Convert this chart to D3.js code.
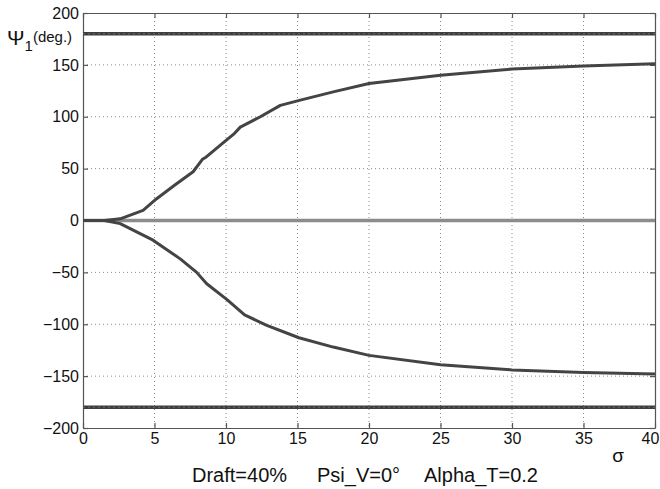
<!DOCTYPE html>
<html>
<head>
<meta charset="utf-8">
<script src="https://cdn.jsdelivr.net/npm/d3@7"></script>
<style>
  body { margin: 0; background: #fff; }
  text { font-family: "Liberation Sans", Arial, sans-serif; }
</style>
</head>
<body>
<svg id="chart" width="660" height="489"></svg>
<script>
// values
const sigmaUp = [0, 1.5, 2.6, 4.2, 5.15, 6.4, 7.7, 8.35, 8.6, 9.9, 10.6, 11, 12.4, 13.8, 15.2, 17.5, 20, 25, 30, 35, 40];
const psiUp   = [0, 0, 1.6, 9.7, 21, 34, 47, 59, 61, 76, 84, 90, 100, 111, 116, 124, 132, 140, 146, 149, 151];
const sigmaLow = [0, 1.5, 2.6, 4.9, 6.8, 7.95, 8.65, 10.05, 11.3, 12.85, 15.1, 17.5, 20, 25, 30, 35, 40];
const psiLow   = [0, 0, -3, -19, -37, -50, -61, -76, -91, -101, -113, -122, -130, -139, -144, -146.5, -148];
const flatLines = [180, -180];
const xTicks = [0, 5, 10, 15, 20, 25, 30, 35, 40];
const yTicks = [-200, -150, -100, -50, 0, 50, 100, 150, 200];
const titleParts = [["Draft=40%", 192], ["Psi_V=0°", 317], ["Alpha_T=0.2", 424]];

const svg = d3.select("#chart");
const pL = 83, pR = 655, pT = 13, pB = 428;

const x = d3.scaleLinear().domain([0, 40]).range([pL, pR]);
const y = d3.scaleLinear().domain([-200, 200]).range([pB, pT]);

// dotted grid
const grid = svg.append("g").attr("class", "grid");
grid.selectAll("line.v").data(xTicks.slice(1, -1)).enter().append("line")
  .attr("x1", d => x(d)).attr("x2", d => x(d))
  .attr("y1", pT).attr("y2", pB)
  .attr("stroke", "#8a8a8a").attr("stroke-width", 1).attr("stroke-dasharray", "1,3");
grid.selectAll("line.h").data(yTicks.slice(1, -1)).enter().append("line")
  .attr("y1", d => y(d)).attr("y2", d => y(d))
  .attr("x1", pL).attr("x2", pR)
  .attr("stroke", "#8a8a8a").attr("stroke-width", 1).attr("stroke-dasharray", "1,3");

// axes (MATLAB style, ticks inward on all four sides)
const xAxisG = svg.append("g").attr("transform", `translate(0,${pB})`)
  .call(d3.axisBottom(x).tickValues(xTicks).tickSize(-5).tickPadding(5).tickSizeOuter(0));
svg.append("g").attr("transform", `translate(0,${pT})`)
  .call(d3.axisTop(x).tickValues(xTicks).tickSize(-5).tickFormat("").tickSizeOuter(0));
svg.append("g").attr("transform", `translate(${pL},0)`)
  .call(d3.axisLeft(y).tickValues(yTicks).tickSize(-5).tickPadding(4).tickSizeOuter(0));
svg.append("g").attr("transform", `translate(${pR},0)`)
  .call(d3.axisRight(y).tickValues(yTicks).tickSize(-5).tickFormat("").tickSizeOuter(0));

svg.selectAll(".domain, .tick line").attr("stroke", "#555").attr("stroke-width", 1.2);
svg.selectAll(".tick text").attr("font-size", 16).attr("fill", "#111")
  .style("font-family", "'Liberation Sans', Arial, sans-serif");
// last x label sits against the page edge
xAxisG.selectAll(".tick text").filter(d => d === 40).attr("dx", -5);

// data lines
const line = d3.line().x(d => x(d[0])).y(d => y(d[1]));

svg.append("path")
  .datum([[0, 0], [40, 0]])
  .attr("d", line).attr("fill", "none")
  .attr("stroke", "#8c8c8c").attr("stroke-width", 3.5);

svg.selectAll("path.flat").data(flatLines).enter().append("path")
  .attr("class", "flat")
  .attr("d", d => line([[0, d], [40, d]]))
  .attr("fill", "none").attr("stroke", "#3e3e3e").attr("stroke-width", 3.5);
svg.selectAll("path.flatdots").data(flatLines).enter().append("path")
  .attr("class", "flatdots")
  .attr("d", d => line([[0, d], [40, d]]))
  .attr("fill", "none").attr("stroke", "#6a6a6a").attr("stroke-width", 1)
  .attr("stroke-dasharray", "2,3");

svg.append("path")
  .datum(sigmaUp.map((s, i) => [s, psiUp[i]]))
  .attr("d", line).attr("fill", "none")
  .attr("stroke", "#444").attr("stroke-width", 3).attr("stroke-linejoin", "round");

svg.append("path")
  .datum(sigmaLow.map((s, i) => [s, psiLow[i]]))
  .attr("d", line).attr("fill", "none")
  .attr("stroke", "#444").attr("stroke-width", 3).attr("stroke-linejoin", "round");

// labels
const yl = svg.append("text").attr("x", 7).attr("y", 45).attr("fill", "#111");
yl.append("tspan").attr("font-size", 21).text("Ψ");
yl.append("tspan").attr("font-size", 15).attr("dy", 6).text("1");
yl.append("tspan").attr("font-size", 15).attr("dy", -9).text("(deg.)");

svg.append("text").attr("x", 618).attr("y", 462).attr("text-anchor", "middle")
  .attr("font-size", 19).attr("fill", "#111").text("σ");

svg.selectAll("text.title").data(titleParts).enter().append("text")
  .attr("class", "title")
  .attr("x", d => d[1]).attr("y", 482)
  .attr("font-size", 20).attr("fill", "#111")
  .text(d => d[0]);
</script>
</body>
</html>
